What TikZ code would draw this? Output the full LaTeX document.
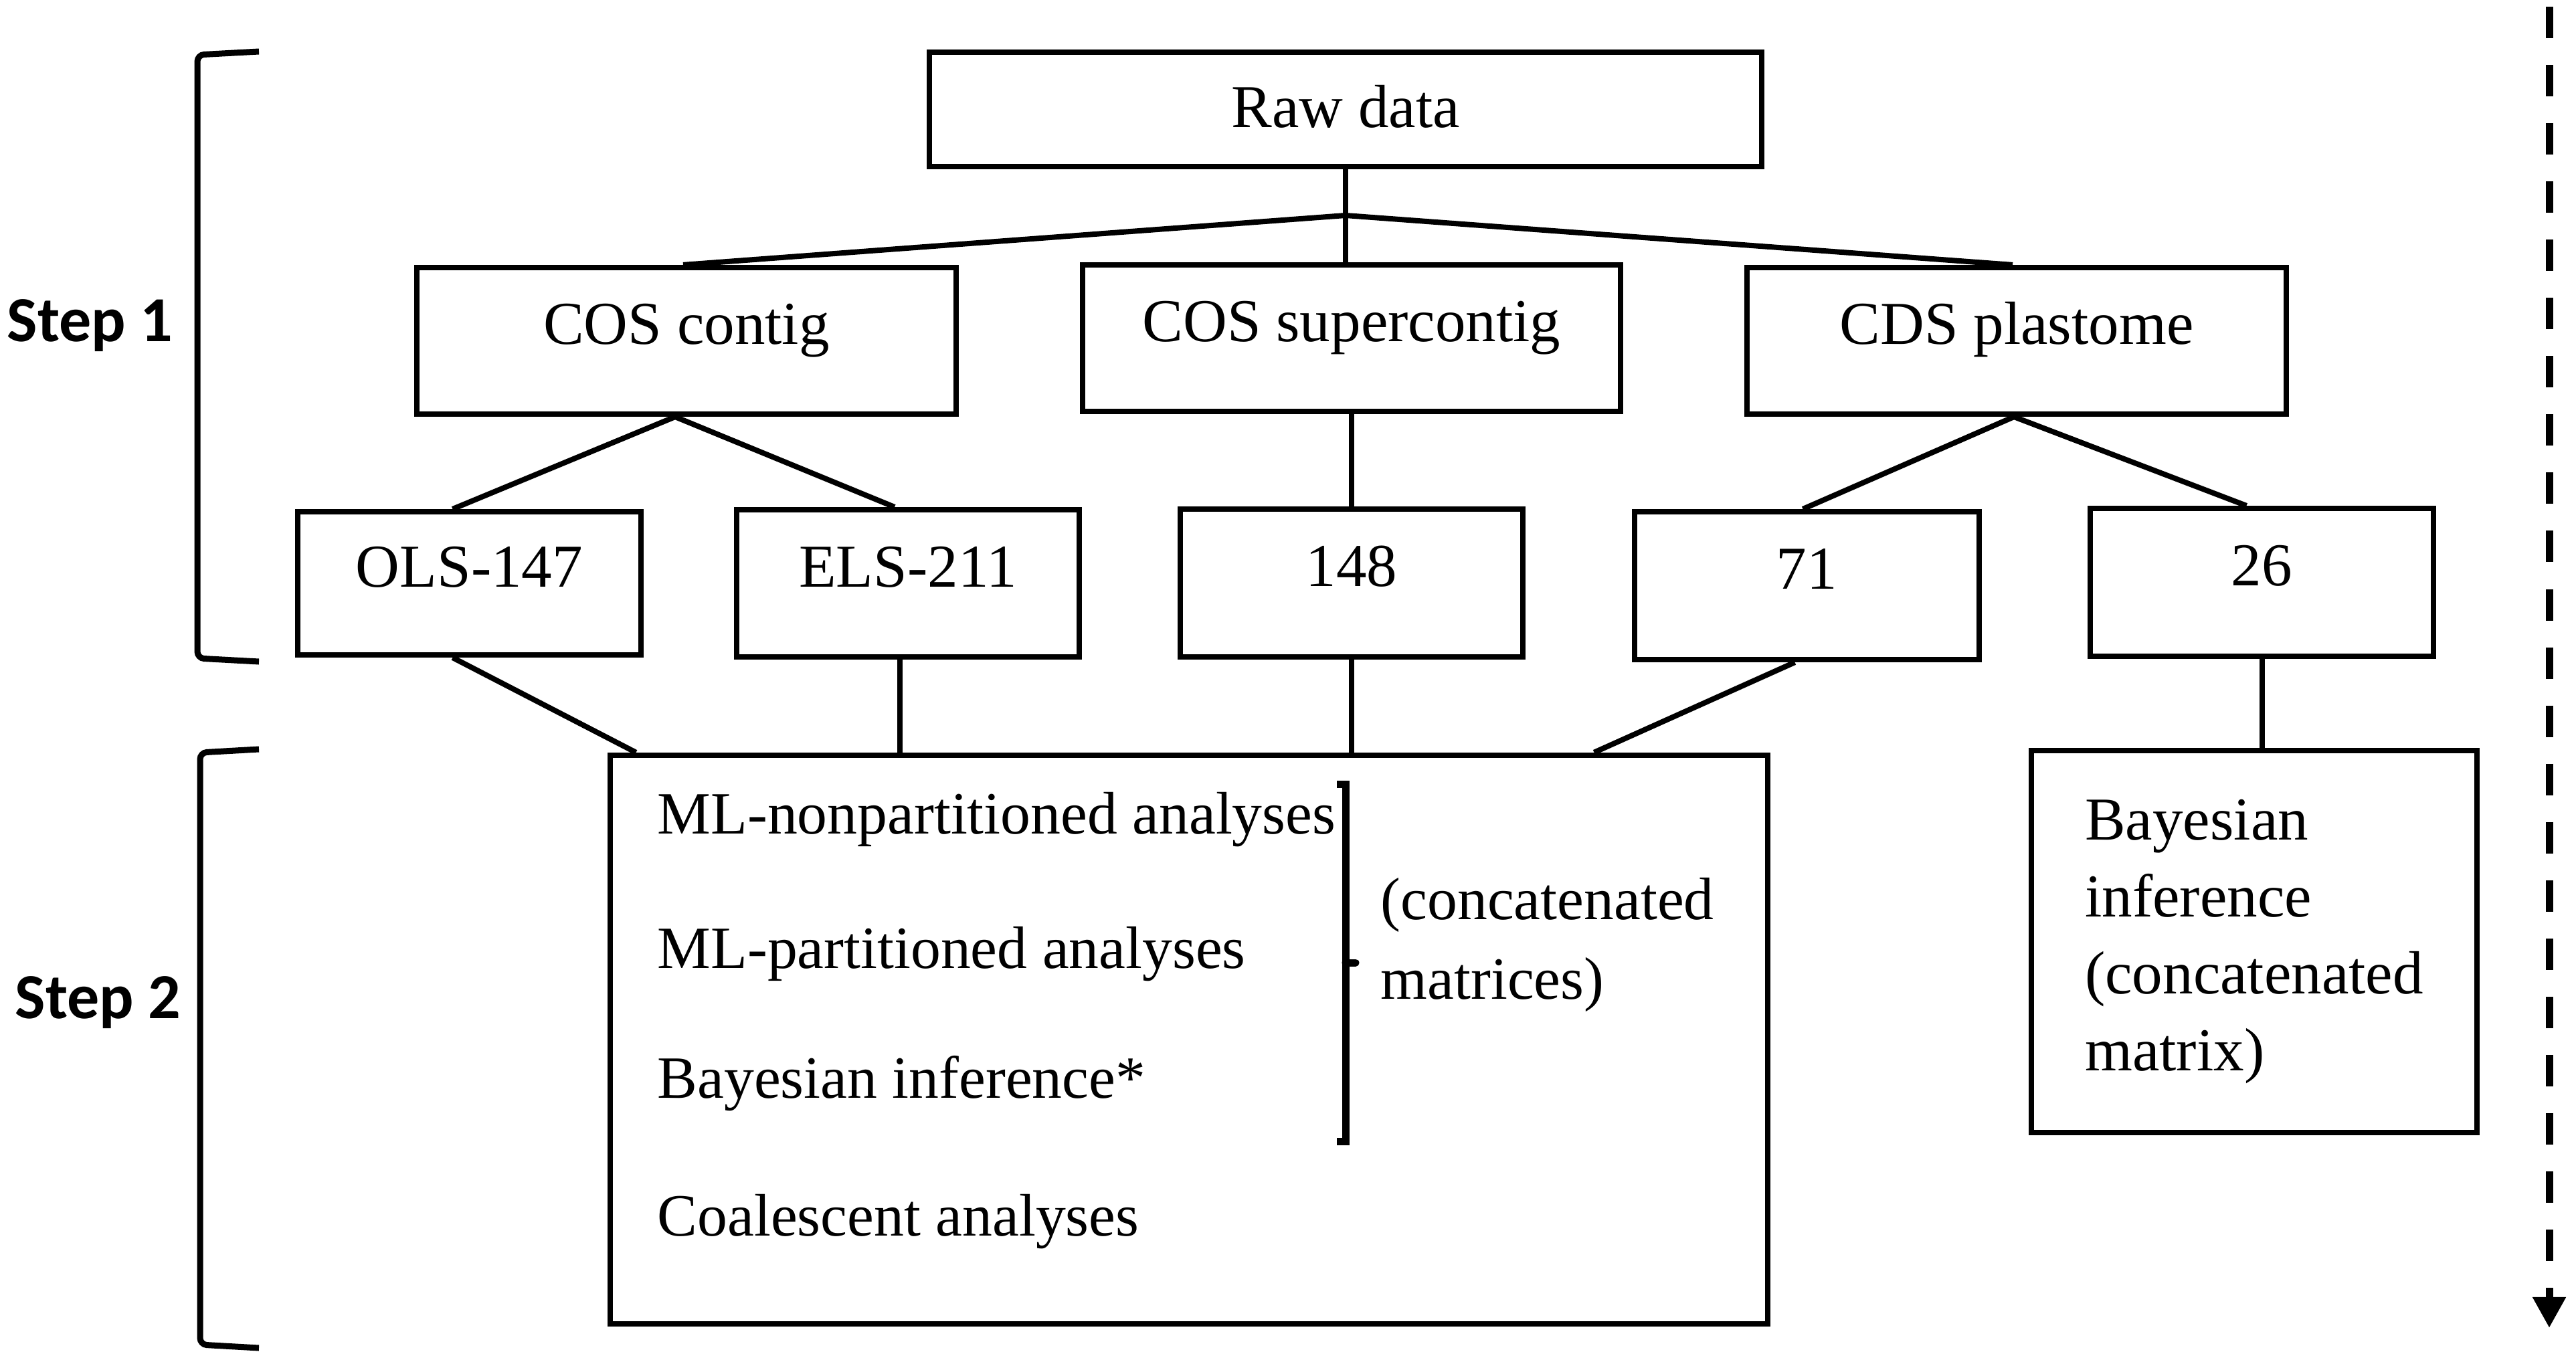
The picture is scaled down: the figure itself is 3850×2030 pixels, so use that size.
\documentclass[tikz,border=0pt]{standalone}
\usepackage{fontspec}
\setmainfont{Liberation Serif}
\newfontfamily\stepfont{Carlito}
\usetikzlibrary{calc,arrows.meta}
\begin{document}
\begin{tikzpicture}[x=0.01cm,y=-0.01cm,
  box/.style={draw,line width=0.08cm,inner sep=0pt,font=\fontsize{25.9pt}{32.7pt}\selectfont},
  onebox/.style={box,text height=0.62cm,text depth=0.52cm},
  txt/.style={inner sep=0pt,anchor=base west,font=\fontsize{25.5pt}{32.7pt}\selectfont},
  conn/.style={line width=0.08cm},
  brk/.style={line width=0.09cm,rounded corners=0.1cm},
  steplbl/.style={inner sep=0pt,anchor=base west,font=\stepfont\bfseries\fontsize{27.3pt}{32pt}\selectfont}]
\fill[white] (0,0) rectangle (3850,2030);
\useasboundingbox (0,0) rectangle (3850,2030);

% step labels and brackets
\node[steplbl] (s1) at (10,510) {Step 1};
\node[steplbl] (s2) at (22,1522) {Step 2};
\draw[brk] (387,77) -- (295,82) -- (295,984) -- (387,989);
\draw[brk] (387,1120) -- (299,1125) -- (299,2010) -- (387,2015);

% boxes
\node[box,minimum width=12.44cm,minimum height=1.71cm,text height=0.62cm,text depth=0.08cm] (raw) at (2011,163.5) {Raw data};
\node[onebox,minimum width=8.06cm,minimum height=2.19cm] (cc) at (1026,509.5) {COS contig};
\node[onebox,minimum width=8.04cm,minimum height=2.19cm] (cs) at (2020,505.5) {COS supercontig};
\node[onebox,minimum width=8.06cm,minimum height=2.19cm] (cds) at (3014,509.5) {CDS plastome};
\node[onebox,minimum width=5.13cm,minimum height=2.14cm] (ols) at (701.5,872) {OLS-147};
\node[onebox,minimum width=5.12cm,minimum height=2.20cm] (els) at (1357,872) {ELS-211};
\node[onebox,minimum width=5.12cm,minimum height=2.21cm] (n148) at (2020,871.5) {148};
\node[onebox,minimum width=5.15cm,minimum height=2.21cm] (n71) at (2700.5,875.5) {71};
\node[onebox,minimum width=5.13cm,minimum height=2.21cm] (n26) at (3380.5,870.5) {26};
\node[box,minimum width=17.29cm,minimum height=8.50cm] (big) at (1776.5,1554) {};
\node[box,minimum width=6.66cm,minimum height=5.71cm,align=left] (bay) at (3369,1407.5) {Bayesian\\inference\\(concatenated\\matrix)};

% texts in the big box
\node[txt] (t1) at (982,1246) {ML-nonpartitioned analyses};
\node[txt] (t2) at (982,1447) {ML-partitioned analyses};
\node[txt] (t3) at (982,1641) {Bayesian inference*};
\node[txt] (t4) at (982,1847) {Coalescent analyses};
\node[txt] (conc1) at (2063,1374) {(concatenated};
\node[txt] (conc2) at (2063,1493) {matrices)};
\draw[line width=0.11cm] (1998,1172) -- (2011,1172) -- (2011,1706) -- (1998,1706);
\draw[line width=0.11cm,line cap=round] (2011,1439) -- (2026,1439);

% connectors
\coordinate (junc) at (2011,322);
\coordinate (elsb) at ($(els.south)+(-12,0)$);
\draw[conn] (raw.south) -- (junc);
\draw[conn] (junc) -- ($(cc.north)+(-5,0)$);
\draw[conn] (junc) -- ($(cds.north)+(-6,0)$);
\draw[conn] (junc) -- (junc |- cs.north);
\draw[conn] ($(cc.south)+(-17,0)$) -- ($(ols.north)+(-25,0)$);
\draw[conn] ($(cc.south)+(-17,0)$) -- ($(els.north)+(-20,0)$);
\draw[conn] (cs.south) -- (n148.north);
\draw[conn] ($(cds.south)+(-4,0)$) -- ($(n71.north)+(-6,0)$);
\draw[conn] ($(cds.south)+(-4,0)$) -- ($(n26.north)+(-23,0)$);
\draw[conn] ($(ols.south)+(-25,0)$) -- ($(big.north west)+(43,0)$);
\draw[conn] (elsb) -- (elsb |- big.north);
\draw[conn] (n148.south) -- (n148.south |- big.north);
\draw[conn] ($(n71.south)+(-18,0)$) -- ($(big.north east)+(-263,0)$);
\draw[conn] (n26.south) -- (n26.south |- bay.north);

% dashed arrow
\coordinate (atop) at (3810,10);
\coordinate (abot) at (3810,1985);
\draw[line width=0.11cm,dash pattern=on 0.47cm off 0.40cm,-{Triangle[width=0.47cm,length=0.46cm]}] (atop) -- (abot);
\end{tikzpicture}
\end{document}
